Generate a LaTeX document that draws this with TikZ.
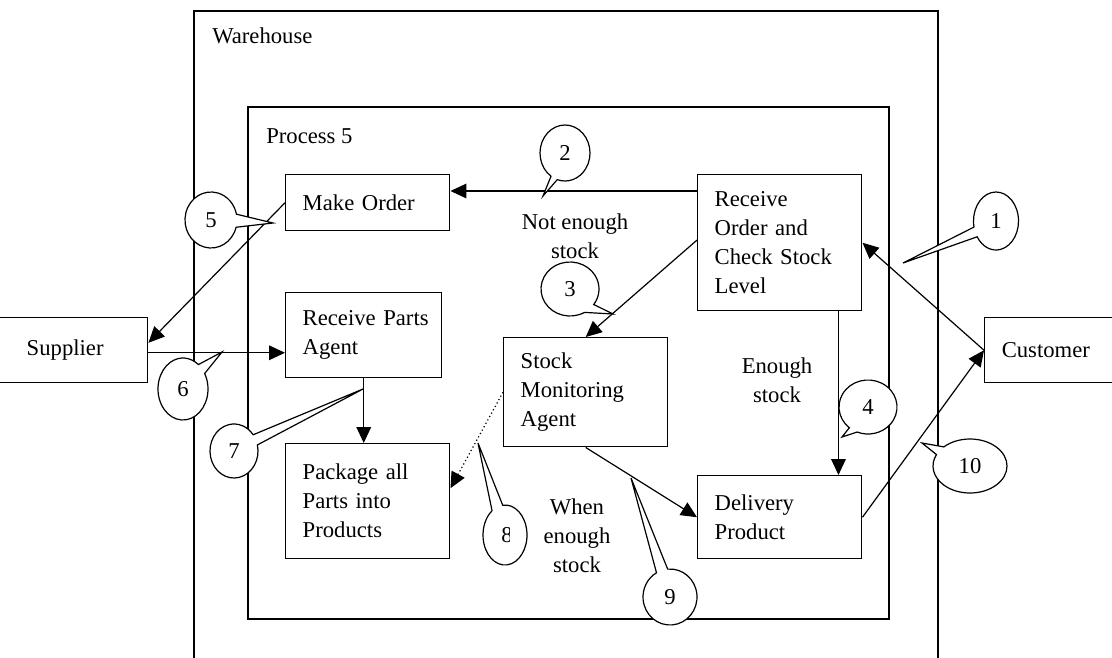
\documentclass[tikz,border=0pt]{standalone}
\usepackage{fontspec}
\setmainfont{Liberation Serif}
\usetikzlibrary{arrows.meta,calc}
\tikzset{
  box/.style={draw, line width=1.1pt, anchor=north west, align=left, inner xsep=12.75pt, inner ysep=0pt},
  frame/.style={draw, line width=1.1pt},
  arr/.style={line width=0.9pt, -{Triangle[length=12pt,width=11pt]}},
  callout/.style={draw, fill=white, line width=0.9pt},
  lbl/.style={align=center, inner sep=0pt},
}
\newcommand{\mycallout}[8]{%
  \coordinate (#1c) at #2;
  \coordinate (#1t) at #7;
  \filldraw[callout] ($(#1c)+(#6:#3 and #4)$) arc[start angle=#6, end angle=#5+360, x radius=#3, y radius=#4] -- (#1t) -- cycle;
  \node[inner sep=0pt] (#1) at (#1c) {#8};
}
\begin{document}
\begin{tikzpicture}[x=0.75pt, y=-0.75pt, every node/.style={font=\fontsize{17pt}{21.75pt}\selectfont}]
\useasboundingbox (0,0) rectangle (1112,657);
% frames
\draw[frame] (194,11) rectangle (938,700);
\draw[frame] (248,107) rectangle (889,619);
\node[anchor=base west, inner sep=0pt] (wh) at (212,43) {Warehouse};
\node[anchor=base west, inner sep=0pt] (p5) at (266,143) {Process 5};
% boxes
\node[box, minimum width=123pt, text width=97.5pt, minimum height=42pt] (make) at (285,174) {Make Order};
\node[box, minimum width=123pt, text width=97.5pt, minimum height=102pt] (recv) at (697,174) {Receive\\Order and\\Check Stock\\Level};
\node[box, minimum width=117pt, text width=91.5pt, minimum height=63.75pt] (parts) at (285,292) {Receive~Parts\\Agent};
\node[box, minimum width=123pt, text width=97.5pt, minimum height=81.75pt] (stock) at (503,337) {Stock\\Monitoring\\Agent};
\node[box, minimum width=123pt, text width=97.5pt, minimum height=86.25pt] (pack) at (285,443) {Package all\\Parts into\\Products};
\node[box, minimum width=123pt, text width=97.5pt, minimum height=62.25pt] (del) at (697,475) {Delivery\\Product};
\node[box, inner xsep=27pt, minimum width=117.75pt, text width=63.75pt, minimum height=48.75pt] (sup) at (-10,317) {Supplier};
\node[box, minimum width=109.5pt, text width=84pt, minimum height=48.75pt] (cust) at (984,317) {Customer};
% connectors
\draw[arr] ([yshift=-12.75pt]recv.north west) coordinate (r2) -- (r2 -| make.east);
\draw[arr] ([yshift=2pt]recv.west) -- (stock.north);
\draw[arr] ([xshift=-18pt]recv.south east) coordinate (r4) -- (r4 |- del.north);
\draw[arr] (cust.west) -- (recv.east);
\draw[arr] (del.east) -- (cust.west);
\draw[arr] (make.west) -- ([yshift=5.6pt]sup.east);
\draw[arr] ([yshift=-1.9pt]sup.east) coordinate (s6) -- (s6 -| parts.west);
\draw[arr] (parts.south) -- (parts.south |- pack.north);
\draw[arr, dotted] (stock.west) -- ([yshift=9.75pt]pack.east);
\draw[arr] (stock.south) -- (del.west);
% labels
\node[lbl] (notenough) at (575,236) {Not enough\\stock};
\node[lbl] (enough) at (777,380) {Enough\\stock};
\node[lbl] (when) at (577,536) {When\\enough\\stock};
% callouts
\mycallout{c1}{(996,221)}{22.5}{29}{147}{168}{(903,263)}{1}
\mycallout{c2}{(565,153)}{25}{28}{108}{124}{(543,196)}{2}
\mycallout{c3}{(570,289)}{29}{27}{35}{60}{(613,314)}{3}
\mycallout{c4}{(868,407)}{29}{27}{112}{130}{(842,437)}{4}
\mycallout{c5}{(211,220)}{26}{28}{-12}{15}{(273,223)}{5}
\mycallout{c6}{(183,389)}{25}{31}{-52}{-30}{(222,352)}{6}
\mycallout{c7}{(234,451)}{24}{27}{-37}{-13}{(363,389)}{7}
\mycallout{c8}{(505,535)}{22}{30}{-126}{-96}{(478,443)}{}
\mycallout{c9}{(670,597)}{27}{28}{-120}{-95}{(631,478)}{9}
\mycallout{c10}{(970,466)}{37}{27}{205}{225}{(922,443)}{10}
\begin{scope}
\clip (480,500) rectangle (509.5,570);
\node[inner sep=0pt] (n8) at (507,535) {8};
\end{scope}
\end{tikzpicture}
\end{document}
